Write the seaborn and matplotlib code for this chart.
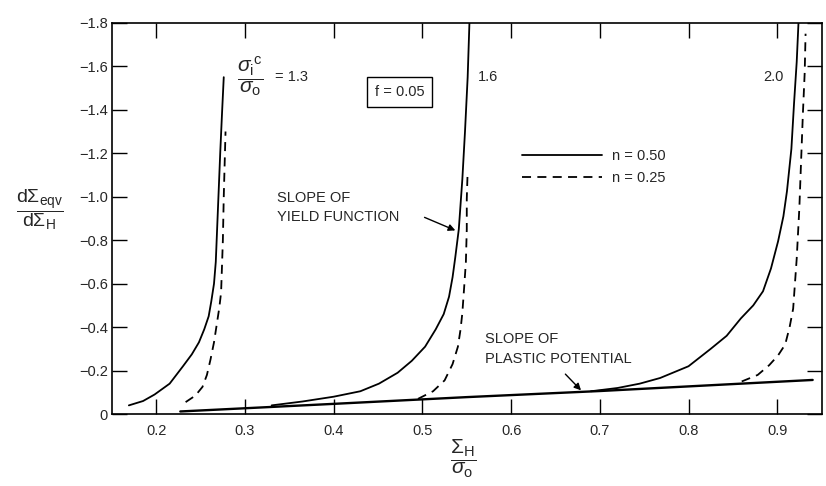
import pandas as pd
import matplotlib.pyplot as plt
import seaborn as sns
from matplotlib.lines import Line2D

# Valores (sigma_i^c / sigma_o = 1.3, 1.6, 2.0 ; n = 0.50 cheio, n = 0.25 tracejado)
x_13_n50 = [0.169, 0.185, 0.198, 0.215, 0.230, 0.240, 0.248, 0.254, 0.259, 0.262, 0.265,
            0.267, 0.268, 0.270, 0.272, 0.274, 0.276]
y_13_n50 = [-0.04, -0.06, -0.09, -0.14, -0.22, -0.275, -0.33, -0.39, -0.45, -0.52, -0.60,
            -0.70, -0.80, -1.00, -1.20, -1.38, -1.55]
x_13_n25 = [0.233, 0.244, 0.252, 0.257, 0.261, 0.265, 0.268, 0.271, 0.273, 0.274, 0.275,
            0.276, 0.277, 0.278]
y_13_n25 = [-0.055, -0.085, -0.125, -0.18, -0.25, -0.33, -0.41, -0.49, -0.56, -0.68, -0.80,
            -1.00, -1.15, -1.30]

x_16_n50 = [0.330, 0.365, 0.400, 0.430, 0.451, 0.472, 0.488, 0.503, 0.515, 0.524, 0.530,
            0.534, 0.537, 0.541, 0.545, 0.548, 0.551, 0.553]
y_16_n50 = [-0.04, -0.058, -0.08, -0.105, -0.14, -0.19, -0.245, -0.31, -0.39, -0.46, -0.54,
            -0.63, -0.72, -0.85, -1.08, -1.30, -1.55, -1.80]
x_16_n25 = [0.495, 0.512, 0.525, 0.534, 0.540, 0.543, 0.545, 0.547, 0.549, 0.550, 0.550, 0.551]
y_16_n25 = [-0.07, -0.105, -0.155, -0.23, -0.31, -0.39, -0.465, -0.58, -0.70, -0.85, -0.99, -1.12]

x_20_n50 = [0.690, 0.720, 0.745, 0.768, 0.800, 0.825, 0.843, 0.859, 0.873, 0.884, 0.893,
            0.901, 0.907, 0.911, 0.916, 0.919, 0.922, 0.924]
y_20_n50 = [-0.105, -0.12, -0.14, -0.166, -0.22, -0.30, -0.36, -0.44, -0.50, -0.565, -0.67,
            -0.795, -0.91, -1.025, -1.22, -1.43, -1.62, -1.80]
x_20_n25 = [0.860, 0.878, 0.891, 0.901, 0.909, 0.914, 0.918, 0.920, 0.922, 0.925, 0.927,
            0.929, 0.931, 0.932]
y_20_n25 = [-0.15, -0.18, -0.225, -0.27, -0.32, -0.40, -0.485, -0.60, -0.715, -0.95, -1.17,
            -1.385, -1.57, -1.75]

# inclinação do potencial plástico
x_pp = [0.227, 0.40, 0.55, 0.70, 0.85, 0.94]
y_pp = [-0.012, -0.047, -0.078, -0.106, -0.138, -0.157]

x_ticks = [0.2, 0.3, 0.4, 0.5, 0.6, 0.7, 0.8, 0.9]
x_ticklabels = ['0.2', '0.3', '0.4', '0.5', '0.6', '0.7', '0.8', '0.9']
y_ticks = [0, -0.2, -0.4, -0.6, -0.8, -1.0, -1.2, -1.4, -1.6, -1.8]
y_ticklabels = ['0', '\u22120.2', '\u22120.4', '\u22120.6', '\u22120.8',
                '\u22121.0', '\u22121.2', '\u22121.4', '\u22121.6', '\u22121.8']

curvas = [('1.3', '0.50', x_13_n50, y_13_n50), ('1.3', '0.25', x_13_n25, y_13_n25),
          ('1.6', '0.50', x_16_n50, y_16_n50), ('1.6', '0.25', x_16_n25, y_16_n25),
          ('2.0', '0.50', x_20_n50, y_20_n50), ('2.0', '0.25', x_20_n25, y_20_n25)]
partes = []
for razao, n, xs, ys in curvas:
    partes.append(pd.DataFrame({'x': xs, 'y': ys, 'curva': razao + '_' + n, 'n': n}))
df = pd.concat(partes, ignore_index=True)

sns.set_style('white')
plt.rcParams['font.family'] = ['Liberation Sans', 'DejaVu Sans']
plt.rcParams['mathtext.fontset'] = 'custom'
plt.rcParams['mathtext.rm'] = 'Liberation Sans'
plt.rcParams['mathtext.it'] = 'Liberation Sans:italic'

fig = plt.figure(figsize=(8.26, 4.86), dpi=100)
ax = fig.add_axes([0.1356, 0.148, 0.859, 0.805])

sns.lineplot(data=df, x='x', y='y', units='curva', style='n', estimator=None, sort=False,
             color='black', linewidth=1.3, dashes={'0.50': '', '0.25': (5, 3.5)},
             legend=False, ax=ax)
sns.lineplot(x=x_pp, y=y_pp, estimator=None, sort=False, color='black', linewidth=1.7, ax=ax)

ax.set_xlim(0.15, 0.95)
ax.set_ylim(0, -1.8)
ax.set_xticks(x_ticks)
ax.set_xticklabels(x_ticklabels)
ax.set_yticks(y_ticks)
ax.set_yticklabels(y_ticklabels)
ax.tick_params(direction='in', length=11, width=1, labelsize=10.5, color='black',
               top=True, right=True, bottom=True, left=True)
ax.tick_params(axis='y', pad=3)
ax.tick_params(axis='x', pad=7)
ax.set_xlabel('')
ax.set_ylabel('')
for s in ax.spines.values():
    s.set_color('black')
    s.set_linewidth(1.2)

# rótulos dos eixos (frações)
fig.text(40 / 826, 1 - 210 / 486, r'$\dfrac{{\rm d}\Sigma_{\rm eqv}}{{\rm d}\Sigma_{\rm H}}$',
         ha='center', va='center', fontsize=14)
fig.text(463 / 826, 1 - 459 / 486, r'$\dfrac{\Sigma_{\rm H}}{\sigma_{\rm o}}$',
         ha='center', va='center', fontsize=15)

# anotações
ax.text(0.3055, -1.55, r'$\dfrac{\sigma_{\rm i}{}^{\rm c}}{\sigma_{\rm o}}$',
        ha='center', va='center', fontsize=15)
ax.text(0.3337, -1.55, '= 1.3', ha='left', va='center', fontsize=10.5)
ax.text(0.563, -1.55, '1.6', ha='left', va='center', fontsize=10.5)
ax.text(0.907, -1.55, '2.0', ha='right', va='center', fontsize=10.5)
ax.text(0.474, -1.48, 'f = 0.05', ha='center', va='center', fontsize=10.5,
        bbox=dict(boxstyle='square,pad=0.55', fc='white', ec='black', lw=1))

ax.text(0.3356, -0.95, 'SLOPE OF\nYIELD FUNCTION', ha='left', va='center',
        fontsize=10.5, linespacing=1.5)
ax.annotate('', xy=(0.540, -0.84), xytext=(0.4995, -0.91),
            arrowprops=dict(arrowstyle='-|>', color='black', lw=1, mutation_scale=10))

ax.text(0.571, -0.30, 'SLOPE OF\nPLASTIC POTENTIAL', ha='left', va='center',
        fontsize=10.5, linespacing=1.5)
ax.annotate('', xy=(0.681, -0.10), xytext=(0.659, -0.193),
            arrowprops=dict(arrowstyle='-|>', color='black', lw=1, mutation_scale=10))

legenda = [Line2D([], [], color='black', lw=1.3, ls='-'),
           Line2D([], [], color='black', lw=1.3, ls=(0, (5, 3.5)))]
ax.legend(legenda, ['n = 0.50', 'n = 0.25'], loc='center left',
          bbox_to_anchor=(0.612, -1.135), bbox_transform=ax.transData,
          frameon=False, fontsize=10.5, handlelength=5.5, handletextpad=0.7,
          labelspacing=0.55, borderpad=0, borderaxespad=0)

plt.savefig('out.png', dpi=100)
